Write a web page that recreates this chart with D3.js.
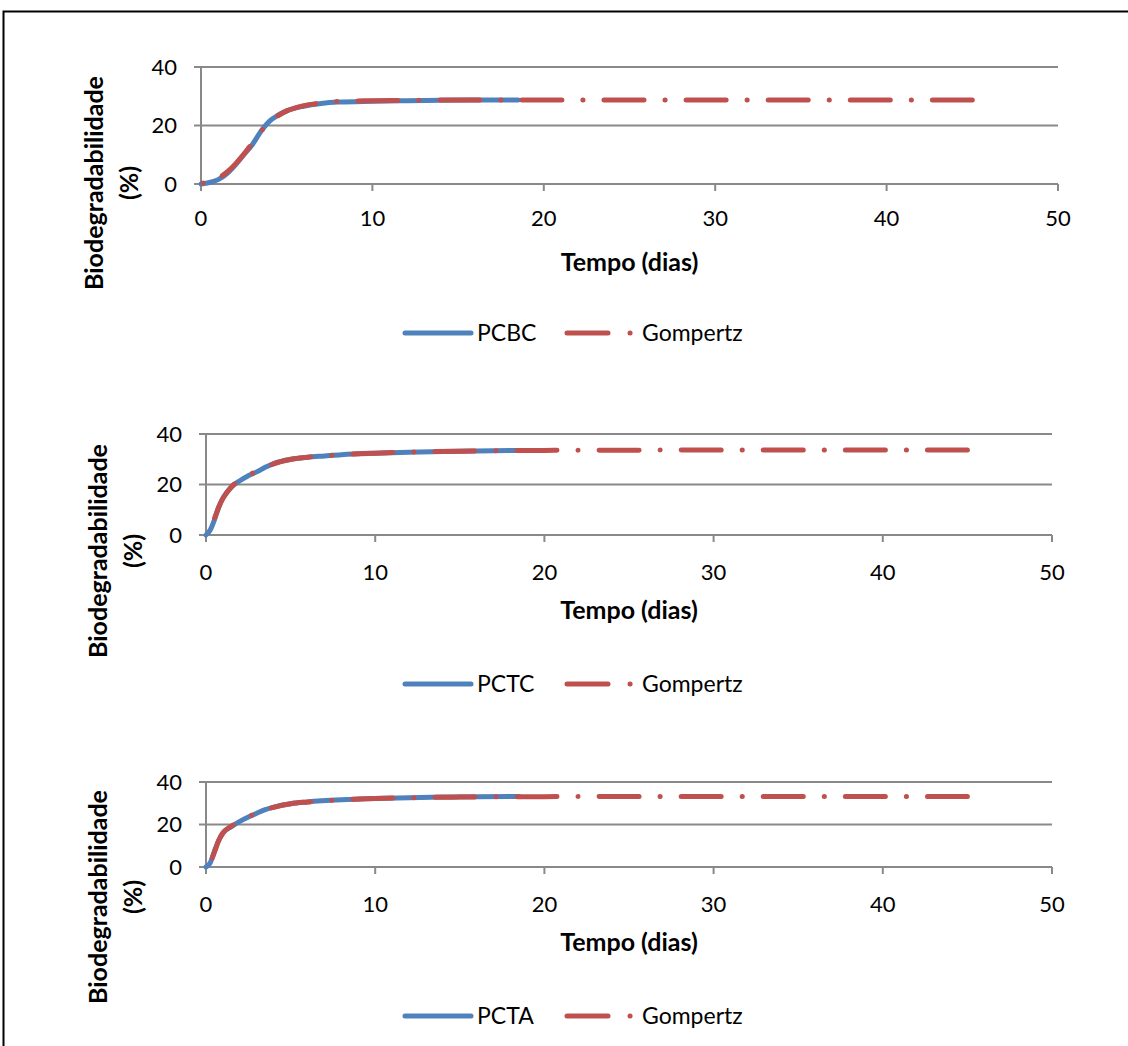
<!DOCTYPE html>
<html>
<head>
<meta charset="utf-8">
<script src="https://cdn.jsdelivr.net/npm/d3@7"></script>
<style>
  body { margin: 0; background: #fff; }
  svg text { font-family: Lato, "Open Sans", sans-serif; fill: #000; }
</style>
</head>
<body>
<svg id="chart" width="1128" height="1046"></svg>
<script>
// ---- data ----
const xTicks = [0, 10, 20, 30, 40, 50]
const yTicks = [0, 20, 40]
const seriesNames = ["PCBC", "PCTC", "PCTA"]
const fitName = "Gompertz"

// PCBC measured
const pcbcDays   = [0, 0.5, 1, 1.5, 2, 2.5, 3, 3.5, 4, 4.5, 5, 6, 7, 8, 10, 12, 14, 16, 18.5]
const pcbcValues = [0, 0.5, 1.5, 3.5, 6.5, 10, 13.5, 18, 21.5, 23.5, 25, 26.6, 27.5, 28, 28.3, 28.5, 28.6, 28.7, 28.7]
// PCBC Gompertz fit
const gomp1Days   = [0, 0.5, 1, 1.5, 2, 2.5, 3, 3.5, 4, 4.5, 5, 5.5, 6, 7, 8, 10, 12, 15, 20, 25, 30, 35, 40, 45]
const gomp1Values = [0.2, 0.8, 2, 4, 6.8, 10.2, 14, 18, 21.3, 23.4, 25, 26, 26.8, 27.7, 28.2, 28.5, 28.6, 28.7, 28.7, 28.7, 28.7, 28.7, 28.7, 28.7]

// PCTC measured
const pctcDays   = [0, 0.25, 0.5, 0.75, 1, 1.25, 1.5, 2, 2.5, 3, 3.5, 4, 5, 6, 7, 8, 10, 12, 14, 16, 18.5]
const pctcValues = [0, 2, 6, 11, 14.6, 17, 19, 21.5, 23.5, 25, 26.8, 28.3, 30, 30.8, 31.3, 31.8, 32.4, 32.8, 33.1, 33.3, 33.5]
// PCTC Gompertz fit
const gomp2Days   = [0, 0.25, 0.5, 0.75, 1, 1.5, 2, 2.5, 3, 3.5, 4, 5, 6, 8, 10, 12, 15, 20, 25, 30, 35, 40, 45]
const gomp2Values = [0, 2, 6.5, 11, 14.5, 19, 21.8, 23.7, 25.2, 26.8, 28.2, 29.9, 30.8, 31.8, 32.4, 32.8, 33.2, 33.5, 33.6, 33.7, 33.7, 33.7, 33.7]

// PCTA measured
const pctaDays   = [0, 0.25, 0.5, 0.75, 1, 1.5, 2, 2.5, 3, 3.5, 4, 5, 6, 8, 10, 12, 14, 16, 18.5]
const pctaValues = [0, 2, 7.5, 12.5, 16, 19, 21.5, 23.5, 25.3, 27, 28.2, 29.8, 30.6, 31.6, 32.2, 32.6, 32.9, 33.1, 33.2]
// PCTA Gompertz fit
const gomp3Days   = [0, 0.25, 0.5, 0.75, 1, 1.5, 2, 2.5, 3, 3.5, 4, 5, 6, 8, 10, 12, 15, 20, 25, 30, 35, 40, 45]
const gomp3Values = [0, 2, 7, 12.5, 16, 19.2, 21.7, 23.6, 25.3, 26.9, 28.1, 29.8, 30.6, 31.6, 32.2, 32.6, 32.9, 33.1, 33.2, 33.2, 33.2, 33.2, 33.2]

const measured = [
  d3.zip(pcbcDays, pcbcValues),
  d3.zip(pctcDays, pctcValues),
  d3.zip(pctaDays, pctaValues),
]
const fitted = [
  d3.zip(gomp1Days, gomp1Values),
  d3.zip(gomp2Days, gomp2Values),
  d3.zip(gomp3Days, gomp3Values),
]

// ---- layout of the three panels ----
const panels = [
  { x0: 201, x1: 1058, yTop: 67,  yBot: 184, tickGap: 34, titleGap: 78, legendY: 333, labelX: 94, labelY: 183 },
  { x0: 206, x1: 1052, yTop: 434, yBot: 535, tickGap: 37, titleGap: 75, legendY: 684, labelX: 98, labelY: 551 },
  { x0: 206, x1: 1052, yTop: 782, yBot: 867, tickGap: 37, titleGap: 75, legendY: 1016, labelX: 98, labelY: 897 },
]

const blue = "#4F81BD"
const red = "#C0504D"
const grid = "#898989"
const dash = [40, 21, 0.1, 21]
const period = d3.sum(dash)

const svg = d3.select("#chart")

// outer frame
svg.append("rect")
  .attr("x", 3.5).attr("y", 11.5)
  .attr("width", 1200).attr("height", 1100)
  .attr("fill", "none")
  .attr("stroke", "#000")
  .attr("stroke-width", 2)

panels.forEach((p, i) => {
  const g = svg.append("g")

  const x = d3.scaleLinear().domain([0, 50]).range([p.x0, p.x1])
  const y = d3.scaleLinear().domain([0, 40]).range([p.yBot, p.yTop])

  // horizontal gridlines
  g.append("g")
    .selectAll("line")
    .data(yTicks)
    .join("line")
    .attr("x1", x(0) - 7).attr("x2", x(50))
    .attr("y1", d => y(d)).attr("y2", d => y(d))
    .attr("stroke", grid)
    .attr("stroke-width", 2)

  // y axis line
  g.append("line")
    .attr("x1", x(0)).attr("x2", x(0))
    .attr("y1", y(40)).attr("y2", y(0))
    .attr("stroke", grid).attr("stroke-width", 2)

  // x ticks
  g.append("g")
    .selectAll("line")
    .data(xTicks)
    .join("line")
    .attr("x1", d => x(d)).attr("x2", d => x(d))
    .attr("y1", y(0)).attr("y2", y(0) + 7)
    .attr("stroke", grid).attr("stroke-width", 2)

  // y tick labels
  g.append("g")
    .selectAll("text")
    .data(yTicks)
    .join("text")
    .attr("x", x(0) - 24)
    .attr("y", d => y(d))
    .attr("dy", "0.35em")
    .attr("text-anchor", "end")
    .style("font-size", "22px")
    .text(d => d)

  // x tick labels
  g.append("g")
    .selectAll("text")
    .data(xTicks)
    .join("text")
    .attr("x", d => x(d))
    .attr("y", y(0) + p.tickGap)
    .attr("dy", "0.35em")
    .attr("text-anchor", "middle")
    .style("font-size", "22px")
    .text(d => d)

  // x title
  g.append("text")
    .attr("x", (p.x0 + p.x1) / 2)
    .attr("y", y(0) + p.titleGap)
    .attr("dy", "0.35em")
    .attr("text-anchor", "middle")
    .style("font-size", "25px")
    .style("font-weight", "700")
    .text("Tempo (dias)")

  // y title (two lines, rotated)
  const yt = g.append("text")
    .attr("transform", `translate(${p.labelX},${p.labelY}) rotate(-90)`)
    .attr("text-anchor", "middle")
    .style("font-size", "25px")
    .style("font-weight", "700")
  yt.append("tspan").attr("x", 0).attr("dy", "0.35em").text("Biodegradabilidade")
  yt.append("tspan").attr("x", 0).attr("dy", "1.4em").text("(%)")

  const line = d3.line()
    .x(d => x(d[0]))
    .y(d => y(d[1]))
    .curve(d3.curveMonotoneX)

  g.append("path")
    .attr("d", line(measured[i]))
    .attr("fill", "none")
    .attr("stroke", blue)
    .attr("stroke-width", 5)
    .attr("stroke-linecap", "round")
    .attr("stroke-linejoin", "round")

  const fit = g.append("path")
    .attr("d", line(fitted[i]))
    .attr("fill", "none")
    .attr("stroke", red)
    .attr("stroke-width", 5)
    .attr("stroke-linecap", "round")
    .attr("stroke-linejoin", "round")
    .attr("stroke-dasharray", dash.join(","))
  // make the pattern end on a dash, as in the original
  const len = fit.node().getTotalLength()
  fit.attr("stroke-dashoffset", ((dash[0] - len) % period + period) % period)

  // legend
  const lg = g.append("g").attr("transform", `translate(0,${p.legendY})`)
  lg.append("line")
    .attr("x1", 405).attr("x2", 471)
    .attr("stroke", blue).attr("stroke-width", 5).attr("stroke-linecap", "round")
  lg.append("text")
    .attr("x", 477).attr("dy", "0.35em")
    .style("font-size", "23px")
    .text(seriesNames[i])
  lg.append("line")
    .attr("x1", 567).attr("x2", 631)
    .attr("stroke", red).attr("stroke-width", 5).attr("stroke-linecap", "round")
    .attr("stroke-dasharray", "41,22,0.1,40")
  lg.append("text")
    .attr("x", 642).attr("dy", "0.35em")
    .style("font-size", "23px")
    .text(fitName)
})
</script>
</body>
</html>
